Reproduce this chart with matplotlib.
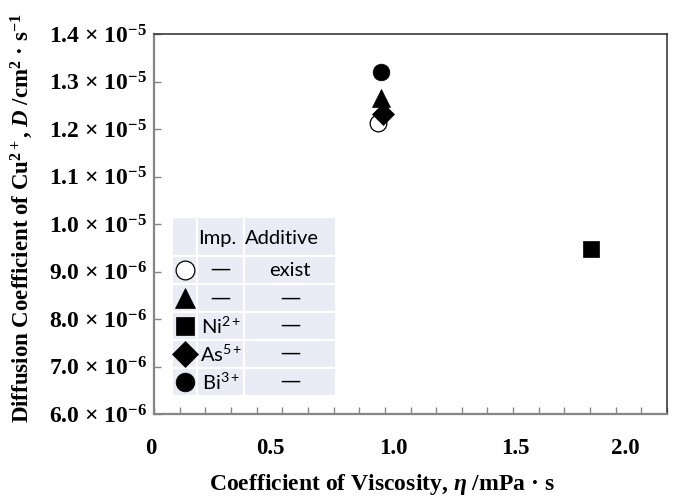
import matplotlib
matplotlib.use("Agg")
import math
import matplotlib.pyplot as plt
from matplotlib.patches import Rectangle
from matplotlib.ticker import FixedLocator, MultipleLocator
import matplotlib.transforms as mtransforms

# ---------------- data ----------------
viscosity = [0.872, 0.884, 1.703, 0.893, 0.884]          # mPa·s
diff_coef = [1.213e-5, 1.266e-5, 9.47e-6, 1.232e-5, 1.320e-5]  # cm2/s
markers = ['o', '^', 's', 'D', 'o']
facecolors = ['white', 'black', 'black', 'black', 'black']
marker_sizes = [12, 13, 12, 11.5, 12]
impurity = ['—', '—', r'Ni$^{\mathregular{2+}}$', r'As$^{\mathregular{5+}}$', r'Bi$^{\mathregular{3+}}$']
additive = ['exist', '—', '—', '—', '—']

yticks = [6e-6, 7e-6, 8e-6, 9e-6, 1.0e-5, 1.1e-5, 1.2e-5, 1.3e-5, 1.4e-5]
xtick_labels = ['0', '0.5', '1.0', '1.5', '2.0']
xtick_label_pos = [-0.012, 0.452, 0.932, 1.407, 1.836]

# ---------------- style ----------------
plt.rcParams['mathtext.fontset'] = 'custom'
plt.rcParams['mathtext.rm'] = 'Liberation Serif:bold'
plt.rcParams['mathtext.it'] = 'Liberation Serif:italic:bold'
plt.rcParams['mathtext.bf'] = 'Liberation Serif:bold'
serif = dict(family='Liberation Serif', weight='bold')

fig = plt.figure(figsize=(6.81, 4.99), dpi=100)
ax = fig.add_axes([154/681, 1-414/499, 513/681, 380/499])

for x, y, m, fc, ms in zip(viscosity, diff_coef, markers, facecolors, marker_sizes):
    ax.plot([x], [y], marker=m, ms=ms, mfc=fc, mec='black',
            mew=0.9 if fc == 'white' else 0.5, ls='none', zorder=5)

ax.set_xlim(0, 2.0)
ax.set_ylim(6e-6, 1.4e-5)

# spines
for s in ['left', 'bottom']:
    ax.spines[s].set_color('#858585')
    ax.spines[s].set_linewidth(1.6)
for s in ['top', 'right']:
    ax.spines[s].set_color('#3a3a3a')
    ax.spines[s].set_linewidth(1.2)

# y ticks
def ylab(v):
    e = int(math.floor(math.log10(v) + 1e-9))
    mant = v / 10**e
    return f"{mant:.1f} × 10" + r"$^{\mathregular{" + f"{e}" + r"}}$"

ax.yaxis.set_major_locator(FixedLocator(yticks))
ax.set_yticklabels([ylab(v) for v in yticks], **serif, fontsize=17)
ax.tick_params(axis='y', direction='in', length=5, width=1, color='#858585',
               pad=5, right=False)

# x ticks: tick marks every 0.1, labels drawn separately
ax.xaxis.set_major_locator(MultipleLocator(0.1))
ax.tick_params(axis='x', direction='in', length=5, width=1, color='#858585',
               top=False, labelbottom=False)
ax.set_xlim(0, 2.0)
trans = mtransforms.blended_transform_factory(ax.transData, ax.transAxes)
for lab, xp in zip(xtick_labels, xtick_label_pos):
    ax.text(xp, -0.092, lab, transform=trans, ha='center', va='center',
            fontsize=16.5, **serif)

ax.set_xlabel(r'Coefficient of Viscosity, $\eta$ /mPa · s', fontsize=17, **serif)
ax.xaxis.set_label_coords(0.444, -0.153)
ax.set_ylabel(r'Diffusion Coefficient of Cu$^{\mathregular{2+}}$, $D$ /cm$^{\mathregular{2}}$ · s$^{\mathregular{-1}}$',
              fontsize=16.5, **serif)
ax.yaxis.set_label_coords(-0.232, 0.515)

# ---------------- legend table ----------------
col_edges = [0.0345, 0.0846, 0.1754, 0.3548]
row_edges = [0.5192, 0.4161, 0.3416, 0.2676, 0.1947, 0.1211, 0.0474]
cell_bg = '#E9EBF5'
for i in range(len(row_edges) - 1):
    for j in range(len(col_edges) - 1):
        ax.add_patch(Rectangle((col_edges[j], row_edges[i + 1]),
                               col_edges[j + 1] - col_edges[j],
                               row_edges[i] - row_edges[i + 1],
                               transform=ax.transAxes, facecolor=cell_bg,
                               edgecolor='white', linewidth=1.6, zorder=3))
sans = dict(family=['Lato', 'DejaVu Sans'])
dash = dict(family=['Noto Sans', 'DejaVu Sans'])
fs_t = 14.5
hy = row_edges[0] - 0.058
ax.text(col_edges[1] + 0.002, hy, 'Imp.', transform=ax.transAxes, ha='left',
        va='center', fontsize=fs_t, zorder=4, **sans)
ax.text(col_edges[2] + 0.002, hy, 'Additive', transform=ax.transAxes, ha='left',
        va='center', fontsize=fs_t, zorder=4, **sans)
cx = [(col_edges[k] + col_edges[k + 1]) / 2 for k in range(3)]
for i in range(5):
    yc = (row_edges[i + 1] + row_edges[i + 2]) / 2
    ax.plot([cx[0]], [yc], marker=markers[i], ms=marker_sizes[i] + 1.5,
            mfc=facecolors[i], mec='black',
            mew=0.9 if facecolors[i] == 'white' else 0.5,
            transform=ax.transAxes, ls='none', zorder=4, clip_on=False)
    for xc, s in ((cx[1], impurity[i]), (cx[2], additive[i])):
        ax.text(xc, yc, s, transform=ax.transAxes, ha='center', va='center',
                fontsize=fs_t, zorder=4, **(dash if s == '—' else sans))

fig.savefig('out.png', dpi=100)
